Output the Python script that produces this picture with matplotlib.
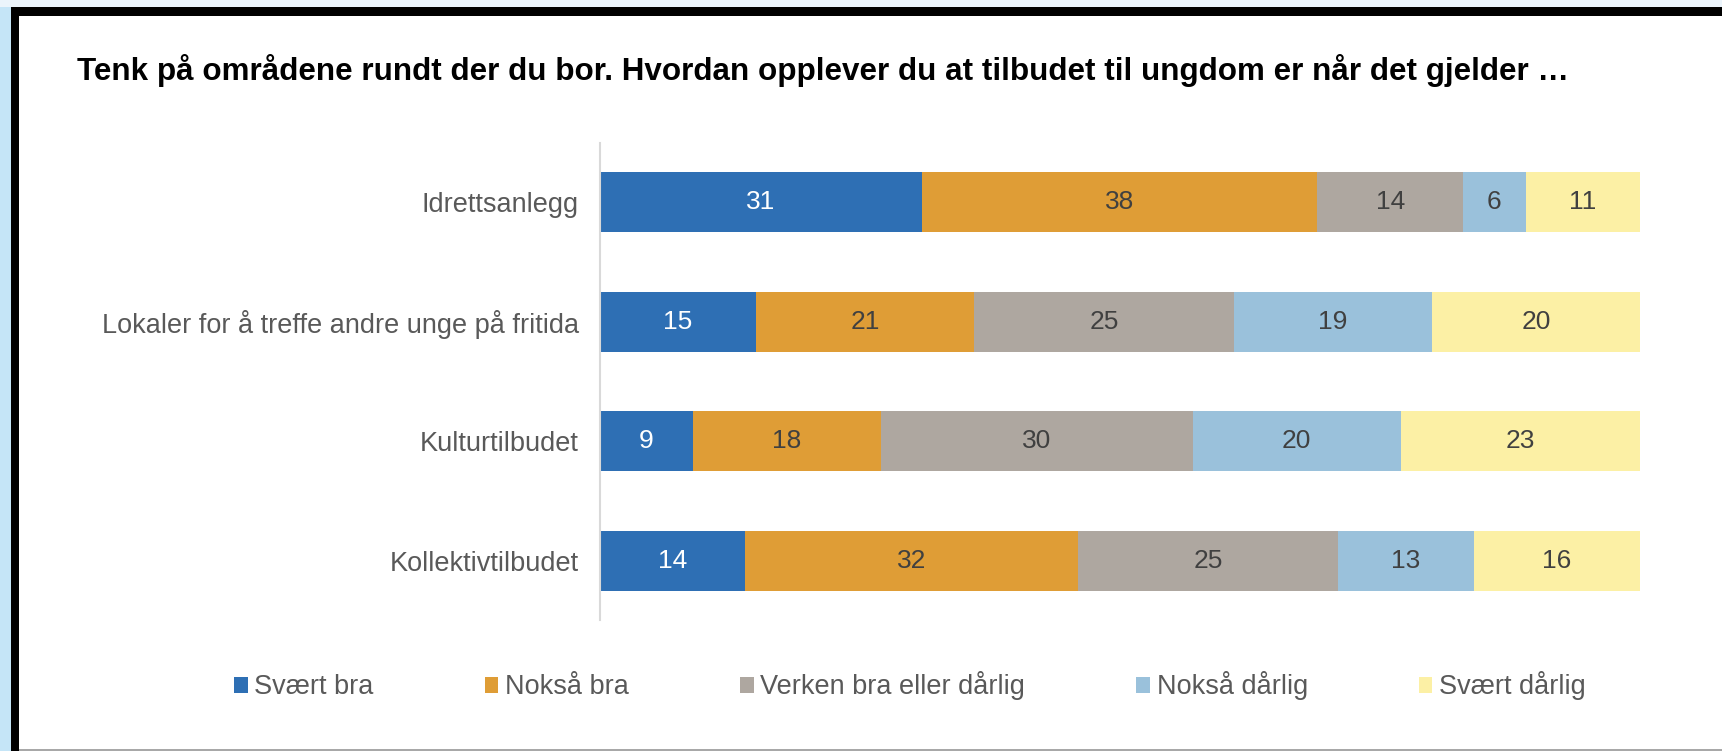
import matplotlib
matplotlib.use("Agg")
import matplotlib.pyplot as plt
from matplotlib.patches import Rectangle, Patch

# -------------------------------------------------------
# Data
# -------------------------------------------------------
CATEGORIES = ["Idrettsanlegg",
              "Lokaler for å treffe andre unge på fritida",
              "Kulturtilbudet",
              "Kollektivtilbudet"]
SERIES = ["Svært bra", "Nokså bra", "Verken bra eller dårlig",
          "Nokså dårlig", "Svært dårlig"]
SVAERT_BRA   = [31, 15, 9, 14]
NOKSA_BRA    = [38, 21, 18, 32]
VERKEN       = [14, 25, 30, 25]
NOKSA_DARLIG = [6, 19, 20, 13]
SVAERT_DARL  = [11, 20, 23, 16]

TITLE = ("Tenk på områdene rundt der du bor. Hvordan opplever du at "
         "tilbudet til ungdom er når det gjelder …")

# -------------------------------------------------------
# Style
# -------------------------------------------------------
COLORS = ["#2e6fb4", "#df9d36", "#aea7a0", "#9ac1db", "#fcf0a5"]
TEXT_COLORS = ["white", "#404040", "#404040", "#404040", "#404040"]
GREY_TXT = "#595959"
FS = 19.5
W, H = 1722, 751

plt.rcParams["font.family"] = ["Liberation Sans", "DejaVu Sans"]

fig = plt.figure(figsize=(W / 100, H / 100), dpi=100)
fig.patch.set_facecolor("white")

# screenshot frame: pale strips, black border, grey bottom line
def px_rect(x0, y0, x1, y1, color):
    fig.patches.append(Rectangle((x0 / W, 1 - y1 / H), (x1 - x0) / W, (y1 - y0) / H,
                                 transform=fig.transFigure, color=color, lw=0, zorder=0))

px_rect(0, 0, W, 7, "#ebf4fb")
px_rect(0, 7, 11, H, "#c5e5f7")
px_rect(11, 7, W, 16, "black")
px_rect(11, 7, 19, H, "black")
px_rect(19, 749, W, H, "#a8a8a8")

ax = fig.add_axes([599.6 / W, 1 - 620 / H, 1040.4 / W, 477 / H])
ax.set_facecolor("none")

values = [SVAERT_BRA, NOKSA_BRA, VERKEN, NOKSA_DARLIG, SVAERT_DARL]
ypos = list(range(len(CATEGORIES)))
left = [0] * len(CATEGORIES)
for vals, col, tcol in zip(values, COLORS, TEXT_COLORS):
    bars = ax.barh(ypos, vals, left=left, height=0.5, color=col, lw=0)
    for b, v in zip(bars, vals):
        ax.text(b.get_x() + b.get_width() / 2, b.get_y() + b.get_height() / 2,
                str(v), ha="center", va="center", color=tcol, fontsize=19)
    left = [l + v for l, v in zip(left, vals)]

ax.set_xlim(0, 100)
ax.set_ylim(3.49, -0.49)
ax.set_yticks(ypos)
ax.set_yticklabels(CATEGORIES, fontsize=FS, color=GREY_TXT)
ax.tick_params(axis="y", length=0, pad=15)
ax.set_xticks([])
for s in ["top", "right", "bottom"]:
    ax.spines[s].set_visible(False)
ax.spines["left"].set_color("#d9d9d9")
ax.spines["left"].set_linewidth(1.5)

# title, scaled to the width it has in the reference
title = fig.text(77 / W, 1 - 80 / H, TITLE, fontsize=21, fontweight="bold",
                 color="black", ha="left", va="baseline")
fig.canvas.draw()
tw = title.get_window_extent().width
title.set_fontsize(21 * 1488 / tw)

handles = [Patch(facecolor=c, edgecolor="none") for c in COLORS]
fig.legend(handles, SERIES, loc="center", bbox_to_anchor=(910 / W, 1 - 686 / H),
           ncol=5, frameon=False, fontsize=FS, labelcolor=GREY_TXT,
           handlelength=0.5, handleheight=0.5, handletextpad=0.25,
           columnspacing=4.1)

fig.savefig("out.png", dpi=100)
